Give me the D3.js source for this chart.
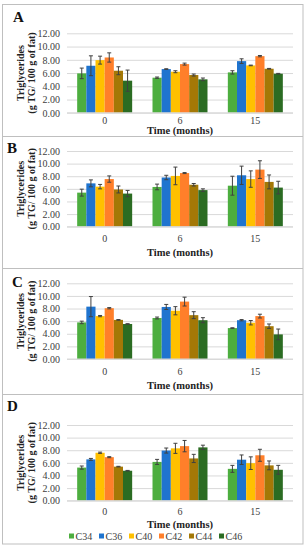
<!DOCTYPE html>
<html><head><meta charset="utf-8">
<script src="https://cdn.jsdelivr.net/npm/d3@7"></script>
<style>body{margin:0;background:#fff}svg{display:block}</style>
</head><body>
<script>
const categories = ["0", "6", "15"];
const seriesNames = ["C34", "C36", "C40", "C42", "C44", "C46"];
const seriesColors = ["#4dae3f", "#1f74cf", "#ffc000", "#ff7f2a", "#a47806", "#2b6c22"];
const yTicks = [0, 2, 4, 6, 8, 10, 12];
const panelLabels = ["A", "B", "C", "D"];

// means: rows = series (C34..C46), columns = time (0, 6, 15)
const meansA = [[5.95, 5.3, 6.1], [7.1, 6.6, 7.8], [7.95, 6.2, 7.15], [8.35, 7.35, 8.55], [6.35, 5.7, 6.65], [4.85, 5.05, 5.9]];
const errsA  = [[0.8, 0.1, 0.25], [1.5, 0.05, 0.35], [0.6, 0.15, 0.05], [0.7, 0.15, 0.1], [0.6, 0.15, 0.05], [1.6, 0.2, 0.05]];
const meansB = [[5.4, 6.3, 6.5], [6.87, 7.8, 8.15], [6.35, 8.05, 7.55], [7.55, 8.5, 9.05], [5.9, 6.65, 7.1], [5.25, 5.8, 6.2]];
const errsB  = [[0.55, 0.45, 1.5], [0.55, 0.35, 1.45], [0.35, 1.4, 1.3], [0.5, 0.08, 1.4], [0.55, 0.2, 1.1], [0.5, 0.2, 1.0]];
const meansC = [[5.8, 6.5, 4.9], [8.3, 8.25, 6.15], [6.8, 7.65, 5.75], [8.05, 9.1, 6.8], [6.2, 6.95, 5.2], [5.55, 6.15, 3.9]];
const errsC  = [[0.2, 0.15, 0.05], [1.6, 0.4, 0.1], [0.1, 0.65, 0.35], [0.1, 0.7, 0.3], [0.05, 0.55, 0.35], [0.05, 0.4, 0.85]];
const meansD = [[5.25, 6.15, 5.05], [6.55, 7.95, 6.5], [7.6, 8.3, 5.95], [6.9, 8.65, 7.2], [5.4, 6.7, 5.6], [4.75, 8.45, 4.9]];
const errsD  = [[0.25, 0.4, 0.55], [0.15, 0.4, 0.75], [0.1, 0.8, 1.0], [0.08, 0.9, 0.95], [0.05, 0.65, 0.7], [0.05, 0.35, 0.7]];

const panelMeans = [meansA, meansB, meansC, meansD];
const panelErrs = [errsA, errsB, errsC, errsD];

// layout per panel
const layouts = [
  {top: 4, bottom: 136, y12: 33.3, y0: 112.8, letterX: 13, letterY: 21.7, catY: 123.5, titleY: 134},
  {top: 136, bottom: 268, y12: 151, y0: 226.7, letterX: 7, letterY: 152.7, catY: 241.5, titleY: 255.5},
  {top: 268, bottom: 394, y12: 283.3, y0: 359, letterX: 12, letterY: 286.7, catY: 374.5, titleY: 388.5},
  {top: 394, bottom: 544, y12: 425, y0: 500.7, letterX: 7, letterY: 410.7, catY: 514.5, titleY: 528}
];
const plotL = 67, plotR = 293;

const svg = d3.select("body").append("svg").attr("width", 307).attr("height", 550);
svg.append("rect").attr("x", 2.5).attr("y", 4.5).attr("width", 300.5).attr("height", 539.5)
  .attr("fill", "#fff").attr("stroke", "#bfbfbf").attr("stroke-width", 1);

const serif = "'Liberation Serif', 'Times New Roman', serif";

panelLabels.forEach((lab, pi) => {
  const L = layouts[pi];
  const means = panelMeans[pi], errs = panelErrs[pi];
  const g = svg.append("g");
  if (pi > 0) {
    g.append("line").attr("x1", 2.5).attr("x2", 303).attr("y1", L.top + 0.5).attr("y2", L.top + 0.5)
      .attr("stroke", "#bfbfbf");
  }
  const x = d3.scaleBand().domain(categories).range([plotL, plotR]).paddingInner(0.27).paddingOuter(0.135);
  const xs = d3.scaleBand().domain(seriesNames).range([0, x.bandwidth()]);
  const y = d3.scaleLinear().domain([0, 12]).range([L.y0, L.y12]);

  // gridlines
  const yAxis = d3.axisLeft(y).tickValues(yTicks).tickFormat(d3.format(".2f")).tickSize(-(plotR - plotL)).tickPadding(7);
  const ga = g.append("g").attr("transform", `translate(${plotL},0)`).call(yAxis);
  ga.select(".domain").remove();
  ga.selectAll(".tick line").attr("stroke", "#d9d9d9");
  ga.selectAll(".tick text").attr("font-family", serif).attr("font-size", 10).attr("fill", "#404040");

  // bars
  seriesNames.forEach((s, si) => {
    const data = categories.map((c, ci) => ({c, v: means[si][ci], e: errs[si][ci]}));
    g.selectAll(null).data(data).enter().append("rect")
      .attr("x", d => x(d.c) + xs(s))
      .attr("width", xs.bandwidth())
      .attr("y", d => y(d.v))
      .attr("height", d => y(0) - y(d.v))
      .attr("fill", seriesColors[si]);
  });
  // error bars
  seriesNames.forEach((s, si) => {
    const data = categories.map((c, ci) => ({c, v: means[si][ci], e: errs[si][ci]}));
    const cx = d => x(d.c) + xs(s) + xs.bandwidth() / 2;
    const eg = g.selectAll(null).data(data).enter().append("g").attr("stroke", "#404040").attr("stroke-width", 1);
    eg.append("line").attr("x1", cx).attr("x2", cx).attr("y1", d => y(d.v + d.e)).attr("y2", d => y(d.v - d.e));
    eg.append("line").attr("x1", d => cx(d) - 2).attr("x2", d => cx(d) + 2).attr("y1", d => y(d.v + d.e)).attr("y2", d => y(d.v + d.e));
    eg.append("line").attr("x1", d => cx(d) - 2).attr("x2", d => cx(d) + 2).attr("y1", d => y(d.v - d.e)).attr("y2", d => y(d.v - d.e));
  });
  // baseline
  g.append("line").attr("x1", plotL).attr("x2", plotR).attr("y1", y(0)).attr("y2", y(0)).attr("stroke", "#d9d9d9");

  // category labels
  g.selectAll(null).data(categories).enter().append("text")
    .attr("x", d => x(d) + x.bandwidth() / 2).attr("y", L.catY)
    .attr("text-anchor", "middle").attr("font-family", serif).attr("font-size", 10).attr("fill", "#404040")
    .text(d => d);
  // x title
  g.append("text").attr("x", 180).attr("y", L.titleY).attr("text-anchor", "middle")
    .attr("font-family", serif).attr("font-size", 10.5).attr("font-weight", "bold").attr("fill", "#222")
    .text("Time (months)");
  // y title
  const ymid = (L.y0 + L.y12) / 2;
  const yt = g.append("text").attr("transform", `translate(24,${ymid}) rotate(-90)`).attr("text-anchor", "middle")
    .attr("font-family", serif).attr("font-size", 10).attr("font-weight", "bold").attr("fill", "#222");
  yt.append("tspan").attr("x", 0).attr("y", 0).text("Triglycerides");
  yt.append("tspan").attr("x", 0).attr("y", 10.5).text("(g TG/ 100 g of fat)");
  // panel letter
  g.append("text").attr("x", L.letterX).attr("y", L.letterY).attr("font-family", serif)
    .attr("font-size", 15).attr("font-weight", "bold").attr("fill", "#111").text(lab);
});

// legend
const legX = d3.scalePoint().domain(seriesNames).range([69, 219]);
const lg = svg.append("g");
const items = lg.selectAll(null).data(seriesNames).enter().append("g")
  .attr("transform", d => `translate(${legX(d)},536)`);
items.append("rect").attr("x", 0).attr("y", -2.5).attr("width", 5).attr("height", 5)
  .attr("fill", (d, i) => seriesColors[i]);
items.append("text").attr("x", 6.5).attr("y", 3.5).attr("font-family", serif).attr("font-size", 10)
  .attr("fill", "#404040").text(d => d);
</script>
</body></html>
